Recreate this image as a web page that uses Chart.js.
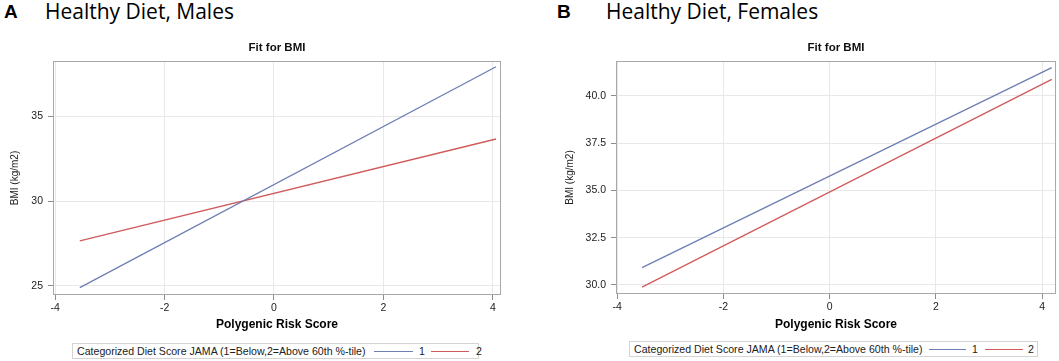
<!DOCTYPE html>
<html>
<head>
<meta charset="utf-8">
<script src="https://cdn.jsdelivr.net/npm/chart.js@4.4.0/dist/chart.umd.min.js"></script>
<style>
  body { margin: 0; background: #fff; }
  #page { position: relative; width: 1059px; height: 361px; overflow: hidden; }
  .panel-letter { position: absolute; top: 1px; font: bold 19px 'Liberation Sans', Arial, sans-serif; color: #000; }
  .panel-title { position: absolute; top: -3px; font: 21px 'Open Sans', sans-serif; color: #000; }
  .chart-box { position: absolute; top: 36px; height: 300px; }
  .legend { position: absolute; height: 14px; border: 1px solid #d4d4d4; box-sizing: content-box;
            font: 10.6px 'Liberation Sans', Arial, sans-serif; color: #222; }
  .legend span { position: absolute; top: 0; line-height: 14px; white-space: nowrap; }
  .legend i { position: absolute; top: 7px; height: 0; border-top: 1px solid; }
</style>
</head>
<body>
<div id="page">
  <div class="panel-letter" style="left:4px">A</div>
  <div class="panel-title" style="left:45px">Healthy Diet, Males</div>
  <div class="panel-letter" style="left:557px">B</div>
  <div class="panel-title" style="left:606px">Healthy Diet, Females</div>

  <div class="chart-box" style="left:0; width:540px"><canvas id="chartA" width="540" height="300"></canvas></div>
  <div class="chart-box" style="left:540px; width:519px"><canvas id="chartB" width="519" height="300"></canvas></div>

  <div class="legend" id="legendA" style="left:72px; top:343px; width:405px"></div>
  <div class="legend" id="legendB" style="left:629px; top:341px; width:407px"></div>
</div>
<script>
// shared
const xTicks = [-4, -2, 0, 2, 4];
const seriesLabels = ['1', '2'];
const seriesColors = ['#6F7EB3', '#D05B5B'];
const legendTitle = 'Categorized Diet Score JAMA (1=Below,2=Above 60th %-tile)';

// panel A: males
const malesX = [-3.55, 4.06];
const malesDiet1 = [24.9, 37.9];
const malesDiet2 = [27.65, 33.65];
const malesYTicks = [25, 30, 35];

// panel B: females
const femalesX = [-3.53, 4.18];
const femalesDiet1 = [30.92, 41.5];
const femalesDiet2 = [29.88, 40.88];
const femalesYTicks = [30, 32.5, 35, 37.5, 40];

const regular = "'Liberation Sans', Arial, sans-serif";

// box around the plot area, SAS style
const plotFrame = {
  id: 'plotFrame',
  afterDatasetsDraw(chart) {
    const a = chart.chartArea;
    const ctx = chart.ctx;
    ctx.save();
    ctx.strokeStyle = '#a8a8a8';
    ctx.lineWidth = 1;
    ctx.strokeRect(Math.round(a.left) + 0.5, Math.round(a.top) + 0.5,
                   Math.round(a.right - a.left) - 1, Math.round(a.bottom - a.top) - 1);
    ctx.restore();
  }
};

function toPoints(xs, ys) {
  return xs.map((x, i) => ({ x: x, y: ys[i] }));
}

function makeChart(canvasId, cfg) {
  const canvas = document.getElementById(canvasId);
  const datasets = [cfg.s1, cfg.s2].map((ys, i) => ({
    label: seriesLabels[i],
    data: toPoints(cfg.xs, ys),
    showLine: true,
    borderColor: seriesColors[i],
    backgroundColor: seriesColors[i],
    borderWidth: 1.3,
    pointRadius: 0
  }));

  return new Chart(canvas.getContext('2d'), {
    type: 'scatter',
    data: { datasets: datasets },
    options: {
      responsive: false,
      animation: false,
      devicePixelRatio: 1,
      layout: { padding: { left: 0, right: cfg.padRight, top: 0, bottom: 0 } },
      plugins: {
        legend: { display: false },
        tooltip: { enabled: false },
        title: {
          display: true,
          text: 'Fit for BMI',
          fullSize: false,
          color: '#111',
          font: { family: regular, size: 11.5, weight: 'bold' },
          padding: { top: 5, bottom: 6.2 }
        }
      },
      scales: {
        x: {
          type: 'linear',
          min: cfg.xMin,
          max: cfg.xMax,
          afterBuildTicks: s => { s.ticks = xTicks.map(v => ({ value: v })); },
          afterFit: s => { s.height = cfg.xHeight; },
          grid: { color: '#e8e8e8', tickColor: '#8c8c8c', tickLength: 5 },
          border: { display: false },
          ticks: { color: '#222', padding: 2, font: { family: regular, size: 10.5 }, maxRotation: 0 },
          title: {
            display: true,
            text: 'Polygenic Risk Score',
            color: '#000',
            font: { family: regular, size: 12, weight: 'bold' },
            padding: { top: 0, bottom: 4 }
          }
        },
        y: {
          type: 'linear',
          min: cfg.yMin,
          max: cfg.yMax,
          afterBuildTicks: s => { s.ticks = cfg.yTicks.map(v => ({ value: v })); },
          afterFit: s => { s.width = cfg.yWidth; },
          grid: { color: '#e8e8e8', tickColor: '#8c8c8c', tickLength: 5 },
          border: { display: false },
          ticks: { color: '#222', padding: 5, font: { family: regular, size: 10.5 },
                   callback: v => cfg.fmt(v) },
          title: {
            display: true,
            text: 'BMI (kg/m2)',
            color: '#222',
            font: { family: regular, size: 10 },
            padding: { top: cfg.yTitlePad, bottom: 0 }
          }
        }
      }
    },
    plugins: [plotFrame]
  });
}

function buildLegend(id, positions) {
  const box = document.getElementById(id);
  let html = '<span style="left:' + positions.text + 'px">' + legendTitle + '</span>';
  seriesLabels.forEach((lab, i) => {
    const p = positions.items[i];
    html += '<i style="left:' + p[0] + 'px; width:' + p[1] + 'px; border-color:' + seriesColors[i] + '"></i>';
    html += '<span style="left:' + p[2] + 'px">' + lab + '</span>';
  });
  box.innerHTML = html;
}

makeChart('chartA', {
  xs: malesX, s1: malesDiet1, s2: malesDiet2, yTicks: malesYTicks,
  xMin: -4.04, xMax: 4.15, yMin: 24.47, yMax: 38.24,
  fmt: v => String(v),
  yWidth: 53, padRight: 39, xHeight: 41, yTitlePad: 9
});

makeChart('chartB', {
  xs: femalesX, s1: femalesDiet1, s2: femalesDiet2, yTicks: femalesYTicks,
  xMin: -4.02, xMax: 4.26, yMin: 29.52, yMax: 41.85,
  fmt: v => v.toFixed(1),
  yWidth: 76, padRight: 3, xHeight: 42, yTitlePad: 24
});

buildLegend('legendA', { text: 4, items: [[301, 39, 346], [358, 38, 403]] });
buildLegend('legendB', { text: 4, items: [[299, 37, 342], [355, 38, 398]] });
</script>
</body>
</html>
